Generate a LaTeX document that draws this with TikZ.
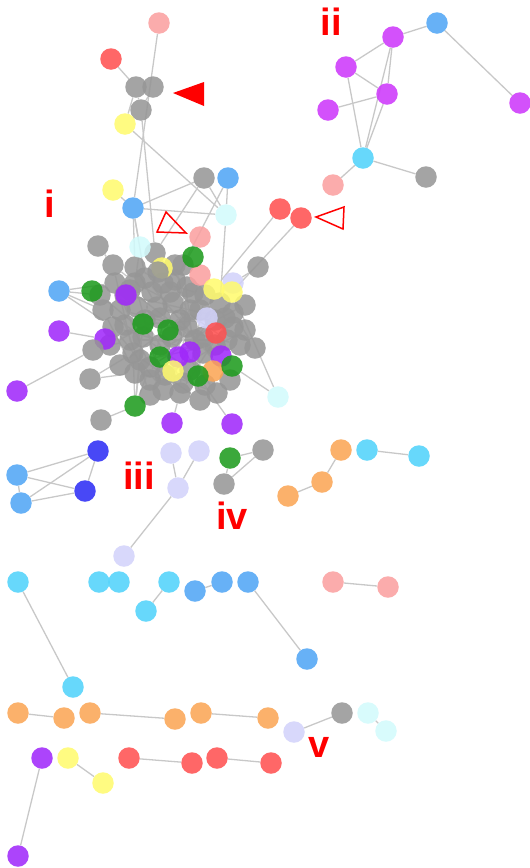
\documentclass[tikz,border=0pt]{standalone}
\usepackage{fontspec}
\setmainfont{Liberation Sans}
\usetikzlibrary{backgrounds}
\definecolor{cgray}{RGB}{150,150,150}
\definecolor{cpink}{RGB}{250,160,160}
\definecolor{cred}{RGB}{255,80,80}
\definecolor{cyellow}{RGB}{255,250,110}
\definecolor{cblue}{RGB}{80,165,245}
\definecolor{clcyan}{RGB}{210,250,252}
\definecolor{ccyan}{RGB}{80,210,250}
\definecolor{cgreen}{RGB}{30,155,30}
\definecolor{cviolet}{RGB}{160,40,250}
\definecolor{cmagenta}{RGB}{205,55,250}
\definecolor{clav}{RGB}{210,210,250}
\definecolor{cdblue}{RGB}{45,45,245}
\definecolor{corange}{RGB}{250,165,85}
\definecolor{cedge}{RGB}{200,200,200}
\definecolor{clabel}{RGB}{255,0,0}
\tikzset{
  vtx/.style={circle,minimum size=21.5pt,inner sep=0pt,fill opacity=0.87,draw=none},
  gv/.style={vtx,fill=cgray},
  pk/.style={vtx,fill=cpink},
  rd/.style={vtx,fill=cred},
  yl/.style={vtx,fill=cyellow},
  bl/.style={vtx,fill=cblue},
  lc/.style={vtx,fill=clcyan},
  cy/.style={vtx,fill=ccyan},
  gr/.style={vtx,fill=cgreen},
  vi/.style={vtx,fill=cviolet},
  mg/.style={vtx,fill=cmagenta},
  lv/.style={vtx,fill=clav},
  db/.style={vtx,fill=cdblue},
  og/.style={vtx,fill=corange},
  link/.style={draw=cedge,line width=1.3pt},
  tag/.style={text=clabel,font=\bfseries\fontsize{38}{38}\selectfont,inner sep=0pt}
}
\begin{document}
\begin{tikzpicture}[x=1pt,y=-1pt]
\useasboundingbox (0,0) rectangle (530,868);

% ---- component on top
\node[pk] (t1) at (159,23) {};
\node[rd] (t2) at (111,59) {};
\node[gv] (t3) at (136,87) {};
\node[gv] (t4) at (153,87) {};
\node[gv] (t5) at (141,110) {};
\node[yl] (t6) at (125,124) {};
\fill[clabel] (173,93) -- (204,82) -- (204,106) -- cycle;

% ---- dense core: grey vertices
\foreach \x/\y [count=\i] in {113/265,135/267,155/253,183/265,115/283,135/283,152/292,163/283,187/287,103/310,
  120/310,137/307,157/307,173/303,193/293,220/303,233/313,113/327,130/340,143/337,
  187/327,203/337,233/327,133/353,150/367,203/353,227/340,135/373,163/390,180/393,
  200/400,217/393,183/383,172/337,190/310,205/295,145/320,125/325,160/345,240/345,
  120/365,190/370,150/395,175/280,215/320,125/295,145/278,170/292,200/310,225/318,
  110/345,140/360,165/375,195/340,215/345,245/330,150/380,130/290,180/320,160/318,
  205/385,245/305,100/295,175/265,230/380}
  \node[gv] (g\i) at (\x,\y) {};

% ---- coloured vertices inside the core
\node[yl] (b18) at (162,268) {};
\node[gv] (g66) at (158,272) {};
\node[pk] (b1) at (200,275) {};
\node[lv] (b3) at (233,283) {};
\node[yl] (b2) at (214,289) {};
\node[yl] (b4) at (232,292) {};
\node[lv] (b5) at (207,318) {};
\node[rd] (b6) at (216,333) {};
\node[gr] (b7) at (143,324) {};
\node[gr] (b8) at (168,330) {};
\node[vi] (b9) at (105,339) {};
\node[vi] (b10) at (178,357) {};
\node[vi] (b11) at (190,352) {};
\node[vi] (b12) at (221,356) {};
\node[gr] (b13) at (160,357) {};
\node[yl] (b15) at (173,371) {};
\node[og] (b16) at (213,371) {};
\node[gr] (b14) at (232,366) {};
\node[gr] (b17) at (198,376) {};

% ---- vertices around the core
\node[yl] (a1) at (113,190) {};
\node[bl] (a2) at (133,208) {};
\node[gv] (a3) at (204,178) {};
\node[bl] (a4) at (228,178) {};
\node[lc] (a5) at (226,215) {};
\node[rd] (a6) at (280,209) {};
\node[rd] (a7) at (301,218) {};
\node[pk] (a8) at (200,237) {};
\node[lc] (a9) at (140,247) {};
\node[gv] (a10) at (98,246) {};
\node[gr] (a11) at (193,257) {};
\node[gv] (a12) at (258,267) {};
\node[bl] (a13) at (59,291) {};
\node[gr] (a14) at (92,291) {};
\node[vi] (a15) at (126,295) {};
\node[vi] (a16) at (59,331) {};
\node[vi] (a17) at (17,391) {};
\node[gv] (a18) at (90,379) {};
\node[gv] (a19) at (101,420) {};
\node[gr] (a20) at (135,406) {};
\node[vi] (a21) at (172,423) {};
\node[vi] (a22) at (232,424) {};
\node[lc] (a23) at (278,397) {};
\node[gv] (a24) at (255,348) {};
\node[gv] (a25) at (93,350) {};

\draw[clabel,line width=1.5pt] (157,232) -- (166,212) -- (186,233) -- cycle;
\draw[clabel,line width=1.5pt] (316,217) -- (344,207) -- (343,229) -- cycle;

% ---- component ii
\node[bl] (p1) at (437,23) {};
\node[mg] (p2) at (393,37) {};
\node[mg] (p3) at (346,67) {};
\node[mg] (p4) at (387,94) {};
\node[mg] (p5) at (328,110) {};
\node[mg] (p6) at (520,103) {};
\node[cy] (p7) at (363,158) {};
\node[gv] (p8) at (426,177) {};
\node[pk] (p9) at (333,185) {};

% ---- small components below
\node[db] (q1) at (98,451) {};
\node[db] (q2) at (85,491) {};
\node[bl] (q3) at (17,475) {};
\node[bl] (q4) at (21,503) {};
\node[lv] (r1) at (171,453) {};
\node[lv] (r2) at (199,451) {};
\node[lv] (r3) at (178,488) {};
\node[lv] (r4) at (124,556) {};
\node[gr] (s1) at (230,458) {};
\node[gv] (s2) at (263,450) {};
\node[gv] (s3) at (224,484) {};
\node[og] (o1) at (341,450) {};
\node[og] (o2) at (322,482) {};
\node[og] (o3) at (288,496) {};
\node[cy] (c1) at (367,450) {};
\node[cy] (c2) at (419,456) {};

\node[cy] (d1) at (18,582) {};
\node[cy] (d2) at (73,687) {};
\node[cy] (d3) at (99,582) {};
\node[cy] (d4) at (119,582) {};
\node[cy] (d5) at (169,582) {};
\node[cy] (d6) at (146,611) {};
\node[bl] (e1) at (195,591) {};
\node[bl] (e2) at (222,582) {};
\node[bl] (e3) at (248,582) {};
\node[bl] (e4) at (307,659) {};
\node[pk] (f1) at (333,582) {};
\node[pk] (f2) at (388,587) {};

\node[og] (h1) at (18,713) {};
\node[og] (h2) at (64,718) {};
\node[og] (h3) at (90,713) {};
\node[og] (h4) at (175,719) {};
\node[og] (h5) at (201,713) {};
\node[og] (h6) at (268,718) {};
\node[lv] (k1) at (294,732) {};
\node[gv] (k2) at (342,713) {};
\node[lc] (k3) at (368,713) {};
\node[lc] (k4) at (386,731) {};
\node[vi] (m1) at (42,758) {};
\node[vi] (m2) at (18,856) {};
\node[yl] (n1) at (68,758) {};
\node[yl] (n2) at (103,783) {};
\node[rd] (u1) at (129,758) {};
\node[rd] (u2) at (192,763) {};
\node[rd] (u3) at (217,758) {};
\node[rd] (u4) at (271,763) {};

% ---- labels
\node[tag,anchor=base] (li) at (50,217) {i};
\node[tag,anchor=base] (lii) at (331,35) {ii};
\node[tag,anchor=base] (liii) at (139,489) {iii};
\node[tag,anchor=base] (liv) at (232,529) {iv};
\node[tag,anchor=base] (lv) at (319,757) {v};

% ---- edges
\begin{pgfonlayer}{background}
\foreach \a/\b in {t1/a2,t2/t3,t3/t5,t4/t5,t3/t6,t6/a5,t5/g3,
  a1/a2,a2/a3,a2/a5,a2/a9,a2/g2,a3/a5,a3/g3,a4/a5,a4/g4,a5/g16,a6/b2,a7/b4,
  a12/b3,a23/b4,a23/b14,a24/g23,a13/g5,a13/g10,a13/g18,a13/g63,a14/g5,a16/b9,a17/a25,
  a18/g28,a18/g24,a19/a20,a20/g20,a20/g24,a20/g25,a20/b7,a20/g52,a21/g30,a22/b17,a25/g19,
  a10/g1,a9/g6,a11/g4,a8/g44,a15/g11,a24/g17,a2/g47,
  g1/g6,g2/g8,g3/g9,g5/g12,g6/g14,g7/g15,g10/g20,g11/g21,g12/g22,g13/g23,
  g18/g26,g19/g27,g24/g31,g25/g32,g28/g33,g29/g16,g30/g17,g41/g35,g38/g45,
  g37/g40,g5/g25,g10/g28,g18/g29,g11/g43,g4/g31,g9/g30,g36/g42,g1/g24,g6/g29,
  g12/g33,g2/g13,g8/g36,g14/g27,g20/g42,g21/g43,g34/g32,g46/g50,g48/g57,g51/g60,
  g52/g62,g53/g56,g54/g58,g47/g65,g59/g49,g61/g64,g55/g41,g63/g39,g50/g25}
  \draw[link] (\a) -- (\b);
\foreach \a/\b in {p1/p2,p1/p6,p2/p3,p3/p4,p5/p4,p3/p7,p2/p7,p2/p4,p4/p7,p7/p8,p7/p9,
  q1/q2,q1/q3,q1/q4,q2/q3,q2/q4,q3/q4,
  r1/r3,r2/r3,r3/r4,s1/s2,s1/s3,s3/s2,o1/o2,o2/o3,c1/c2,
  d1/d2,d5/d6,e1/e2,e3/e4,f1/f2,
  h1/h2,h3/h4,h5/h6,k1/k2,k3/k4,m1/m2,n1/n2,u1/u2,u3/u4}
  \draw[link] (\a) -- (\b);
\end{pgfonlayer}
\end{tikzpicture}
\end{document}
